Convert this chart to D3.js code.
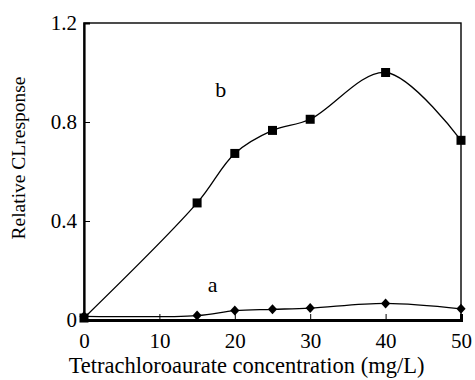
<!DOCTYPE html>
<html>
<head>
<meta charset="utf-8">
<script src="https://cdn.jsdelivr.net/npm/d3@7"></script>
<style>
  body { margin: 0; background: #fff; }
</style>
</head>
<body>
<div id="chart"></div>
<script>
const concentrations = [0, 15, 20, 25, 30, 40, 50];
const seriesA = [0.015, 0.018, 0.038, 0.043, 0.048, 0.067, 0.045];
const seriesB = [0.008, 0.473, 0.673, 0.766, 0.811, 1.0, 0.726];
const xTicks = [0, 10, 20, 30, 40, 50];
const yTicks = [0, 0.4, 0.8, 1.2];

const serif = "'Liberation Serif', 'DejaVu Serif', 'Times New Roman', serif";
const width = 475;
const height = 380;
const margin = { top: 23, right: 14, bottom: 60, left: 84 };
const innerW = width - margin.left - margin.right;
const innerH = height - margin.top - margin.bottom;

const x = d3.scaleLinear().domain([0, 50]).range([0, innerW]);
const y = d3.scaleLinear().domain([0, 1.2]).range([innerH, 0]);

const svg = d3.select("#chart")
    .append("svg")
    .attr("width", width)
    .attr("height", height);

const g = svg.append("g")
    .attr("transform", "translate(" + margin.left + "," + margin.top + ")");

// frame
g.append("rect")
    .attr("width", innerW)
    .attr("height", innerH)
    .attr("fill", "none")
    .attr("stroke", "#000")
    .attr("stroke-width", 1.4);

const xAxis = g.append("g")
    .attr("transform", "translate(0," + innerH + ")")
    .call(d3.axisBottom(x).tickValues(xTicks).tickSize(-6).tickPadding(13).tickFormat(d3.format("d")));
xAxis.attr("font-family", serif);
xAxis.select(".domain").attr("stroke-width", 3);
xAxis.selectAll("text").style("font-family", serif).style("font-size", "21px");

const yAxis = g.append("g")
    .call(d3.axisLeft(y).tickValues(yTicks).tickSize(-6).tickPadding(7).tickFormat(d => d === 0 ? "0" : d3.format(".1f")(d)));
yAxis.attr("font-family", serif);
yAxis.select(".domain").attr("stroke-width", 2.2);
yAxis.selectAll("text").style("font-family", serif).style("font-size", "21px");

const line = d3.line()
    .x(function(d) { return x(d.c); })
    .y(function(d) { return y(d.v); })
    .curve(d3.curveCatmullRom.alpha(0.5));

const dataA = concentrations.map(function(c, i) { return { c: c, v: seriesA[i] }; });
const dataB = concentrations.map(function(c, i) { return { c: c, v: seriesB[i] }; });

g.append("path").datum(dataA)
    .attr("d", line).attr("fill", "none").attr("stroke", "#000").attr("stroke-width", 1.3);
g.append("path").datum(dataB)
    .attr("d", line).attr("fill", "none").attr("stroke", "#000").attr("stroke-width", 1.3);

g.selectAll(".dm")
    .data(dataA)
    .enter().append("path")
    .attr("class", "dm")
    .attr("transform", function(d) { return "translate(" + x(d.c) + "," + y(d.v) + ")"; })
    .attr("d", "M0,-5L4.6,0L0,5L-4.6,0Z")
    .attr("fill", "#000");

g.selectAll(".sq")
    .data(dataB)
    .enter().append("rect")
    .attr("class", "sq")
    .attr("x", function(d) { return x(d.c) - 4.5; })
    .attr("y", function(d) { return y(d.v) - 4.5; })
    .attr("width", 9)
    .attr("height", 9)
    .attr("fill", "#000");

g.append("text")
    .attr("x", x(17.4))
    .attr("y", y(0.90))
    .style("font-family", serif)
    .style("font-size", "22px")
    .text("b");

g.append("text")
    .attr("x", x(16.4))
    .attr("y", y(0.113))
    .style("font-family", serif)
    .style("font-size", "22px")
    .text("a");

svg.append("text")
    .attr("x", 246.5)
    .attr("y", 373)
    .attr("text-anchor", "middle")
    .style("font-family", serif)
    .style("font-size", "22.5px")
    .text("Tetrachloroaurate concentration (mg/L)");

svg.append("text")
    .attr("transform", "translate(25,158) rotate(-90)")
    .attr("text-anchor", "middle")
    .style("font-family", serif)
    .style("font-size", "19.5px")
    .text("Relative CLresponse");
</script>
</body>
</html>
